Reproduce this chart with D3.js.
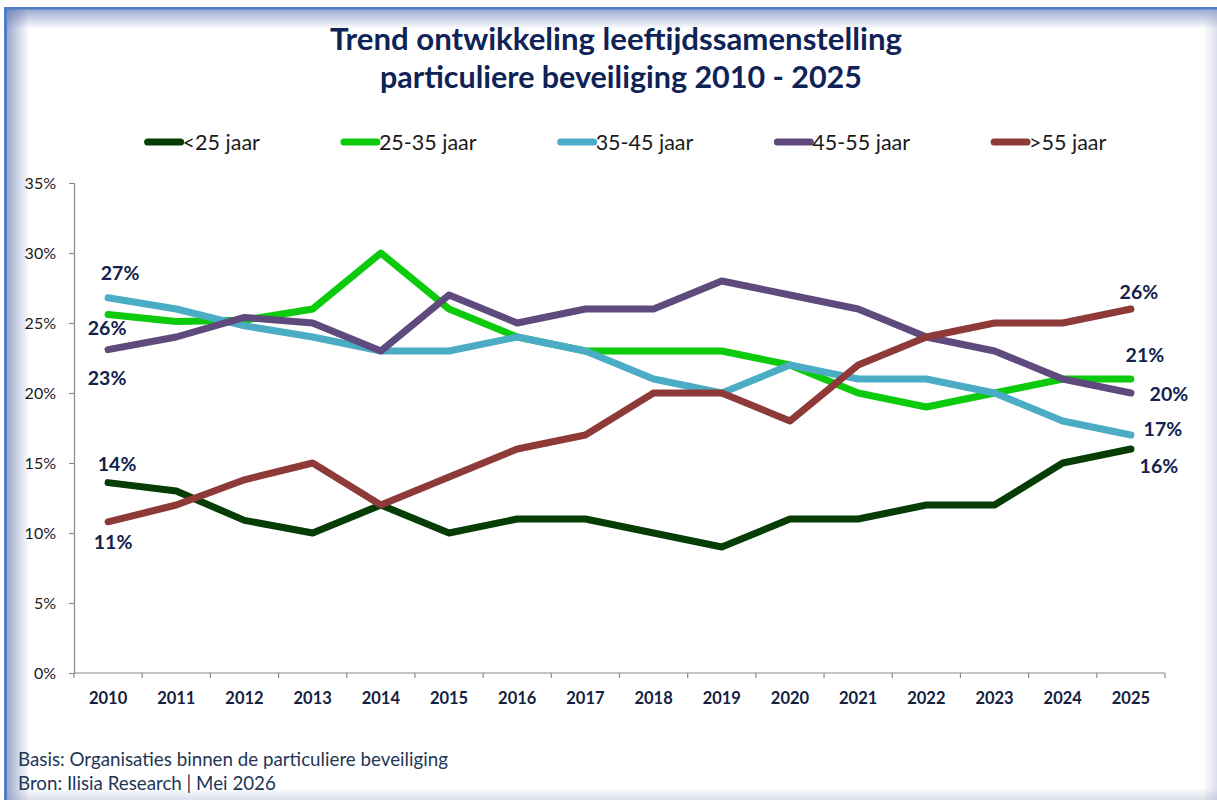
<!DOCTYPE html>
<html>
<head>
<meta charset="utf-8">
<script src="https://cdn.jsdelivr.net/npm/d3@7"></script>
<style>
  html, body { margin: 0; padding: 0; background: #ffffff; }
  svg { display: block; }
</style>
</head>
<body>
<svg id="chart" width="1217" height="800"></svg>
<script>
// ---- data ----
const years = ["2010", "2011", "2012", "2013", "2014", "2015", "2016", "2017",
               "2018", "2019", "2020", "2021", "2022", "2023", "2024", "2025"];
const seriesNames = ["<25 jaar", "25-35 jaar", "35-45 jaar", "45-55 jaar", ">55 jaar"];
const under25  = [13.6, 13, 10.9, 10, 12, 10, 11, 11, 10, 9, 11, 11, 12, 12, 15, 16];
const age25_35 = [25.6, 25.1, 25.2, 26, 30, 26, 24, 23, 23, 23, 22, 20, 19, 20, 21, 21];
const age35_45 = [26.8, 26, 24.8, 24, 23, 23, 24, 23, 21, 20, 22, 21, 21, 20, 18, 17];
const age45_55 = [23.1, 24, 25.4, 25, 23, 27, 25, 26, 26, 28, 27, 26, 24, 23, 21, 20];
const over55   = [10.8, 12, 13.8, 15, 12, 14, 16, 17, 20, 20, 18, 22, 24, 25, 25, 26];
const yTicks = [0, 5, 10, 15, 20, 25, 30, 35];

const titleLines = ["Trend ontwikkeling leeftijdssamenstelling", "particuliere beveiliging 2010 - 2025"];
const footerLines = ["Basis: Organisaties binnen de particuliere beveiliging", "Bron: Ilisia Research | Mei 2026"];

// ---- styling ----
const colors = ["#053d05", "#0ccb0c", "#4bacc6", "#5e4a7c", "#8e3a38"];
const labelColor = "#13224d";
const font = "Lato, 'Open Sans', sans-serif";

// label offsets (first / last point) per series, in px
const startOffsets = [[9, -19], [-1, 13], [12, -25], [-1, 28], [5, 20]];
const endOffsets = [[28, 17], [14, -24], [32, -6], [38, 1], [8, -17]];

const allValues = [under25, age25_35, age35_45, age45_55, over55];
const series = seriesNames.map((name, i) => ({ name, color: colors[i], values: allValues[i] }));

const svg = d3.select("#chart");
const W = 1217, H = 800;
const margin = { left: 74, right: 52, top: 183, bottom: 127 };
const plotW = W - margin.left - margin.right;
const plotH = H - margin.top - margin.bottom;

// ---- frame with soft inner shadow ----
const defs = svg.append("defs");
function grad(id, x1, y1, x2, y2, c, op) {
    const g = defs.append("linearGradient").attr("id", id)
        .attr("x1", x1).attr("y1", y1).attr("x2", x2).attr("y2", y2);
    g.append("stop").attr("offset", "0%").attr("stop-color", c).attr("stop-opacity", op);
    g.append("stop").attr("offset", "100%").attr("stop-color", c).attr("stop-opacity", 0);
}
grad("shL", 0, 0, 1, 0, "#5a6fae", 0.6);
grad("shT", 0, 0, 0, 1, "#5a6fae", 0.6);
grad("shR", 1, 0, 0, 0, "#9aa3c6", 0.35);
grad("shB", 0, 1, 0, 0, "#9aa3c6", 0.35);

svg.append("rect").attr("width", W).attr("height", H).attr("fill", "#ffffff");
svg.append("rect").attr("x", 7).attr("y", 9).attr("width", 22).attr("height", H - 9).attr("fill", "url(#shL)");
svg.append("rect").attr("x", 7).attr("y", 9).attr("width", W - 7).attr("height", 20).attr("fill", "url(#shT)");
svg.append("rect").attr("x", W - 14).attr("y", 9).attr("width", 14).attr("height", H - 9).attr("fill", "url(#shR)");
svg.append("rect").attr("x", 7).attr("y", H - 12).attr("width", W - 7).attr("height", 12).attr("fill", "url(#shB)");
svg.append("rect").attr("x", 4).attr("y", 7).attr("width", W - 4).attr("height", 2.5).attr("fill", "#4f7fc6");
svg.append("rect").attr("x", 4).attr("y", 7).attr("width", 3).attr("height", H - 7).attr("fill", "#4f7fc6");

// fit text to a target width by scaling its font size
function fit(sel, target) {
    const len = sel.node().getComputedTextLength();
    const fs = parseFloat(sel.attr("font-size"));
    sel.attr("font-size", (fs * target / len).toFixed(2));
}

// ---- title ----
const titleWidths = [572, 482];
const titleCenters = [616, 621];
titleLines.forEach((t, i) => {
    const tt = svg.append("text")
        .attr("x", titleCenters[i]).attr("y", 50 + i * 38)
        .attr("text-anchor", "middle")
        .attr("font-family", font).attr("font-weight", "bold")
        .attr("font-size", 28).attr("fill", "#0f2356")
        .text(t);
    fit(tt, titleWidths[i]);
});

// ---- scales ----
const x = d3.scaleBand().domain(years).range([0, plotW]);
const y = d3.scaleLinear().domain([0, 35]).range([plotH, 0]);

const g = svg.append("g").attr("transform", `translate(${margin.left},${margin.top})`);

// y axis
const yAxis = d3.axisLeft(y).tickValues(yTicks).tickSize(5).tickPadding(13).tickFormat((d) => d + "%");
const yG = g.append("g").call(yAxis);
yG.select(".domain").attr("stroke", "#8c8c8c").attr("stroke-width", 1.2);
yG.selectAll(".tick line").attr("stroke", "#8c8c8c").attr("stroke-width", 1.2);
yG.selectAll("text").attr("font-family", font).attr("font-size", 16).attr("fill", "#1a1a1a");

// x axis: ticks on band edges
const xG = g.append("g").attr("transform", `translate(0,${plotH})`);
xG.append("line").attr("x1", 0).attr("x2", plotW).attr("stroke", "#8c8c8c").attr("stroke-width", 1.2);
xG.selectAll(".edge")
    .data(years.concat(["end"]))
    .enter()
    .append("line")
    .attr("class", "edge")
    .attr("x1", (d) => (d === "end" ? plotW : x(d)))
    .attr("x2", (d) => (d === "end" ? plotW : x(d)))
    .attr("y1", 0).attr("y2", 5)
    .attr("stroke", "#8c8c8c").attr("stroke-width", 1.2);
xG.selectAll(".yr")
    .data(years)
    .enter()
    .append("text")
    .attr("class", "yr")
    .attr("x", (d) => x(d) + x.bandwidth() / 2)
    .attr("y", 31)
    .attr("text-anchor", "middle")
    .attr("font-family", font).attr("font-weight", "bold")
    .attr("font-size", 16.5).attr("fill", "#14213f")
    .text((d) => d);

// ---- lines ----
const line = d3.line()
    .x((d, i) => x(years[i]) + x.bandwidth() / 2)
    .y((d) => y(d));

g.selectAll(".series")
    .data(series)
    .enter()
    .append("path")
    .attr("class", "series")
    .attr("d", (d) => line(d.values))
    .attr("fill", "none")
    .attr("stroke", (d) => d.color)
    .attr("stroke-width", 7)
    .attr("stroke-linejoin", "round")
    .attr("stroke-linecap", "round");

// ---- data labels on first and last points ----
const last = years.length - 1;
series.forEach((s, i) => {
    [[0, startOffsets[i]], [last, endOffsets[i]]].forEach(([idx, off]) => {
        g.append("text")
            .attr("x", x(years[idx]) + x.bandwidth() / 2 + off[0])
            .attr("y", y(s.values[idx]) + off[1])
            .attr("dy", "0.36em")
            .attr("text-anchor", "middle")
            .attr("font-family", font).attr("font-weight", "bold")
            .attr("font-size", 19.5).attr("fill", labelColor)
            .text(Math.round(s.values[idx]) + "%");
    });
});

// ---- legend ----
const legend = svg.append("g");
let lx = 0;
series.forEach((s) => {
    const item = legend.append("g").attr("transform", `translate(${lx},0)`);
    item.append("line").attr("x1", 2).attr("x2", 35).attr("y1", 0).attr("y2", 0)
        .attr("stroke", s.color).attr("stroke-width", 7).attr("stroke-linecap", "round");
    const t = item.append("text").attr("x", 37).attr("dy", "0.35em")
        .attr("font-family", font).attr("font-size", 21.5).attr("fill", "#1a1a1a")
        .text(s.name);
    lx += 37 + t.node().getComputedTextLength() + 82;
});
const legendW = lx - 82;
legend.attr("transform", `translate(${626 - legendW / 2},142)`);

// ---- footer ----
const footerWidths = [430, 258];
footerLines.forEach((t, i) => {
    const ft = svg.append("text")
        .attr("x", 18).attr("y", 766 + i * 24)
        .attr("font-family", font).attr("font-size", 17).attr("fill", "#233656")
        .text(t);
    fit(ft, footerWidths[i]);
});
</script>
</body>
</html>
